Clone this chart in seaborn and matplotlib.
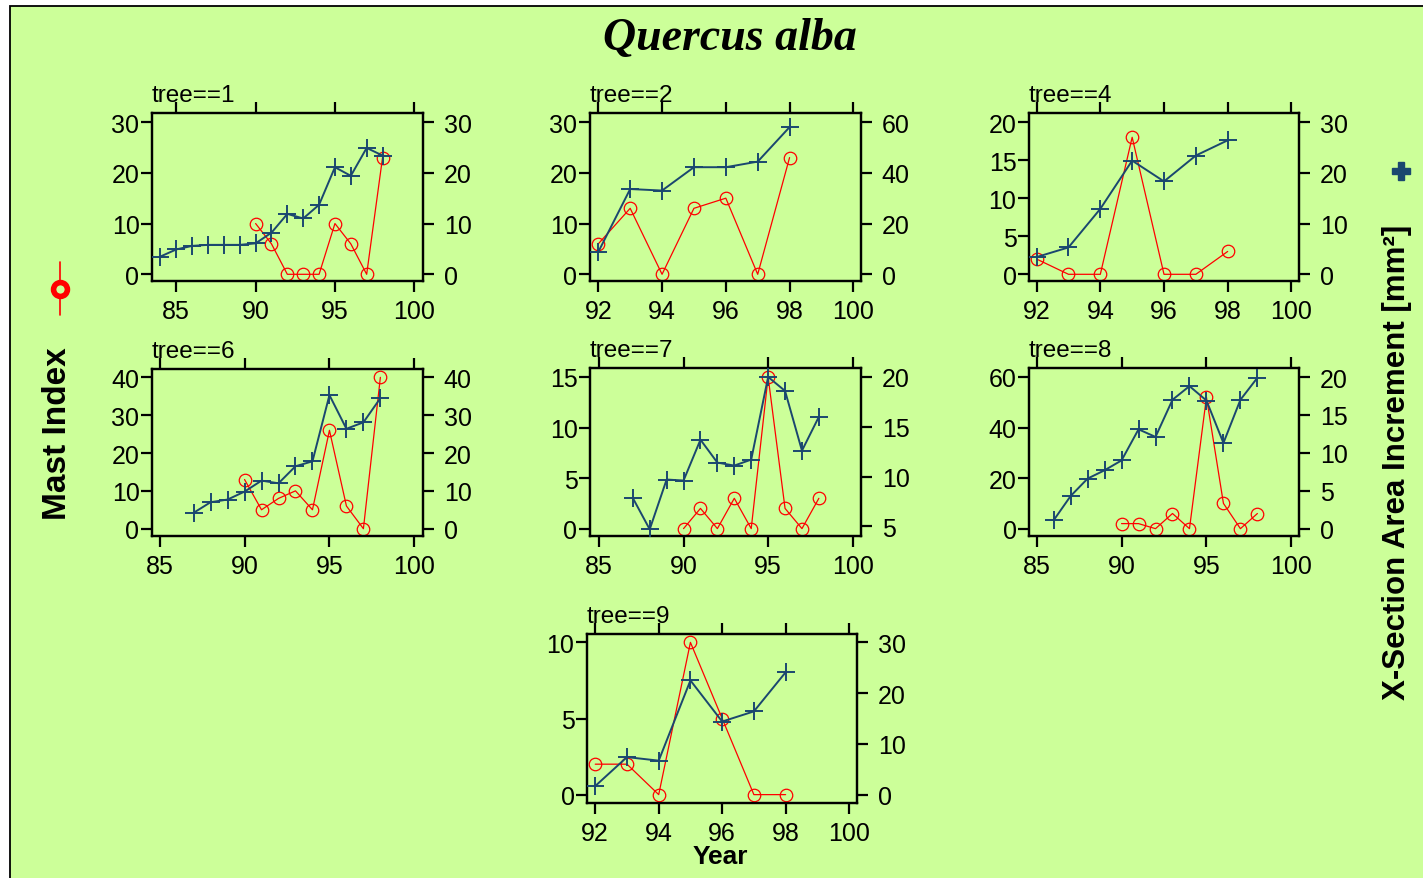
import matplotlib
matplotlib.use("Agg")
import matplotlib.pyplot as plt
from matplotlib.lines import Line2D
from matplotlib.patches import Rectangle
import seaborn as sns

sns.set_style("ticks")
plt.rcParams['font.family'] = ['Liberation Sans', 'DejaVu Sans']
plt.rcParams['text.color'] = 'black'
plt.rcParams['xtick.color'] = 'black'
plt.rcParams['ytick.color'] = 'black'
plt.rcParams['axes.labelcolor'] = 'black'

# ---------------- data ----------------
trees = [1, 2, 4, 6, 7, 8, 9]

mast_years_t1 = [90, 91, 92, 93, 94, 95, 96, 97, 98]
mast_t1 = [10, 6, 0, 0, 0, 10, 6, 0, 23]
area_years_t1 = [84, 85, 86, 87, 88, 89, 90, 91, 92, 93, 94, 95, 96, 97, 98]
area_t1 = [3.5, 4.9, 5.6, 5.8, 5.8, 5.8, 6.1, 8.2, 11.9, 11.0, 13.7, 21.1, 19.4, 24.9, 23.4]

mast_years_t2 = [92, 93, 94, 95, 96, 97, 98]
mast_t2 = [6, 13, 0, 13, 15, 0, 23]
area_years_t2 = [92, 93, 94, 95, 96, 97, 98]
area_t2 = [8.8, 33.6, 33.0, 42.2, 42.2, 44.4, 58.0]

mast_years_t4 = [92, 93, 94, 95, 96, 97, 98]
mast_t4 = [2, 0, 0, 18, 0, 0, 3]
area_years_t4 = [92, 93, 94, 95, 96, 97, 98]
area_t4 = [3.4, 5.3, 12.9, 22.4, 18.3, 23.4, 26.4]

mast_years_t6 = [90, 91, 92, 93, 94, 95, 96, 97, 98]
mast_t6 = [13, 5, 8, 10, 5, 26, 6, 0, 40]
area_years_t6 = [87, 88, 89, 90, 91, 92, 93, 94, 95, 96, 97, 98]
area_t6 = [4.2, 7.0, 7.7, 9.8, 12.7, 12.0, 16.5, 17.8, 35.3, 26.4, 28.1, 34.5]

mast_years_t7 = [90, 91, 92, 93, 94, 95, 96, 97, 98]
mast_t7 = [0, 2, 0, 3, 0, 15, 2, 0, 3]
area_years_t7 = [87, 88, 89, 90, 91, 92, 93, 94, 95, 96, 97, 98]
area_t7 = [7.85, 4.7, 9.7, 9.6, 13.7, 11.4, 11.1, 11.7, 20.0, 18.6, 12.6, 16.0]

mast_years_t8 = [90, 91, 92, 93, 94, 95, 96, 97, 98]
mast_t8 = [2, 2, 0, 6, 0, 52, 10, 0, 6]
area_years_t8 = [86, 87, 88, 89, 90, 91, 92, 93, 94, 95, 96, 97, 98]
area_t8 = [1.1, 4.3, 6.6, 7.7, 9.0, 13.1, 12.1, 17.0, 18.8, 16.9, 11.3, 17.0, 19.9]

mast_years_t9 = [92, 93, 94, 95, 96, 97, 98]
mast_t9 = [2, 2, 0, 10, 5, 0, 0]
area_years_t9 = [92, 93, 94, 95, 96, 97, 98]
area_t9 = [1.7, 7.4, 6.7, 22.5, 14.4, 16.4, 24.1]

# tick labels per panel
xticks_t1 = [85, 90, 95, 100]; lticks_t1 = [0, 10, 20, 30]; rticks_t1 = [0, 10, 20, 30]
xticks_t2 = [92, 94, 96, 98, 100]; lticks_t2 = [0, 10, 20, 30]; rticks_t2 = [0, 20, 40, 60]
xticks_t4 = [92, 94, 96, 98, 100]; lticks_t4 = [0, 5, 10, 15, 20]; rticks_t4 = [0, 10, 20, 30]
xticks_t6 = [85, 90, 95, 100]; lticks_t6 = [0, 10, 20, 30, 40]; rticks_t6 = [0, 10, 20, 30, 40]
xticks_t7 = [85, 90, 95, 100]; lticks_t7 = [0, 5, 10, 15]; rticks_t7 = [5, 10, 15, 20]
xticks_t8 = [85, 90, 95, 100]; lticks_t8 = [0, 20, 40, 60]; rticks_t8 = [0, 5, 10, 15, 20]
xticks_t9 = [92, 94, 96, 98, 100]; lticks_t9 = [0, 5, 10]; rticks_t9 = [0, 10, 20, 30]

title = "Quercus alba"
ylabel_left = "Mast Index"
ylabel_right = "X-Section Area Increment [mm²]"
xlabel = "Year"

# ---------------- layout / style ----------------
W, H = 1423, 879
BG = "#CCFF99"
RED = "#FF0000"
BLUE = "#1A476F"

panels = [
    dict(tree=1, box=(152, 114, 423, 282), xlim=(83.47, 100.55), yl=(-1.32, 31.78), yr=(-1.32, 31.78),
         my=mast_years_t1, m=mast_t1, ay=area_years_t1, a=area_t1, xt=xticks_t1, lt=lticks_t1, rt=rticks_t1),
    dict(tree=2, box=(590, 114, 861, 282), xlim=(91.74, 100.24), yl=(-1.32, 31.78), yr=(-2.64, 63.56),
         my=mast_years_t2, m=mast_t2, ay=area_years_t2, a=area_t2, xt=xticks_t2, lt=lticks_t2, rt=rticks_t2),
    dict(tree=4, box=(1029, 114, 1299, 282), xlim=(91.76, 100.24), yl=(-0.88, 21.19), yr=(-1.32, 31.78),
         my=mast_years_t4, m=mast_t4, ay=area_years_t4, a=area_t4, xt=xticks_t4, lt=lticks_t4, rt=rticks_t4),
    dict(tree=6, box=(152, 370, 423, 537), xlim=(84.55, 100.51), yl=(-1.93, 42.2), yr=(-1.93, 42.2),
         my=mast_years_t6, m=mast_t6, ay=area_years_t6, a=area_t6, xt=xticks_t6, lt=lticks_t6, rt=rticks_t6),
    dict(tree=7, box=(590, 369, 861, 537), xlim=(84.47, 100.49), yl=(-0.73, 15.89), yr=(4.03, 20.9),
         my=mast_years_t7, m=mast_t7, ay=area_years_t7, a=area_t7, xt=xticks_t7, lt=lticks_t7, rt=rticks_t7),
    dict(tree=8, box=(1029, 369, 1299, 537), xlim=(84.55, 100.45), yl=(-2.9, 63.56), yr=(-0.97, 21.19),
         my=mast_years_t8, m=mast_t8, ay=area_years_t8, a=area_t8, xt=xticks_t8, lt=lticks_t8, rt=rticks_t8),
    dict(tree=9, box=(587, 635, 857, 804), xlim=(91.74, 100.25), yl=(-0.55, 10.55), yr=(-1.64, 31.64),
         my=mast_years_t9, m=mast_t9, ay=area_years_t9, a=area_t9, xt=xticks_t9, lt=lticks_t9, rt=rticks_t9),
]

fig = plt.figure(figsize=(W / 100, H / 100), dpi=100)
fig.patch.set_facecolor("white")
fig.patches.append(Rectangle((9.5 / W, -0.1), 1.2, 1.1 - 6.5 / H, transform=fig.transFigure,
                             facecolor=BG, edgecolor="black", linewidth=1.3, zorder=-10))


def rect(b):
    x0, y0, x1, y1 = b
    return [x0 / W, 1 - y1 / H, (x1 - x0) / W, (y1 - y0) / H]


TS = 18
for p in panels:
    ax = fig.add_axes(rect(p["box"]))
    ax.set_facecolor("none")
    sns.lineplot(x=p["my"], y=p["m"], ax=ax, color=RED, linewidth=0.9, marker="o", markersize=9,
                 markerfacecolor="none", markeredgecolor=RED, markeredgewidth=0.9, zorder=3)
    ax2 = ax.twinx()
    sns.lineplot(x=p["ay"], y=p["a"], ax=ax2, color=BLUE, linewidth=1.4, marker="+", markersize=13,
                 markeredgewidth=1.4, markeredgecolor=BLUE, zorder=4)
    ax.set_xlim(*p["xlim"])
    ax.set_ylim(*p["yl"])
    ax2.set_ylim(*p["yr"])
    ax.set_xticks(p["xt"])
    ax.set_xticklabels([str(v) for v in p["xt"]])
    ax.set_yticks(p["lt"])
    ax.set_yticklabels([str(v) for v in p["lt"]])
    ax2.set_yticks(p["rt"])
    ax2.set_yticklabels([str(v) for v in p["rt"]])
    for a_ in (ax, ax2):
        a_.set_xlabel("")
        a_.set_ylabel("")
        for s in a_.spines.values():
            s.set_visible(True)
            s.set_linewidth(1.6)
            s.set_color("black")
    ax.tick_params(axis="x", direction="out", length=8, width=1.6, top=True, bottom=True,
                   labelsize=TS, pad=5, colors="black")
    ax.tick_params(axis="y", direction="out", length=8, width=1.6, left=True, right=False,
                   labelsize=TS, pad=1, colors="black")
    ax2.tick_params(axis="y", direction="out", length=8, width=1.6, right=True, left=False,
                    labelsize=TS, pad=7, colors="black")
    x0, y0, x1, y1 = p["box"]
    fig.text(x0 / W, 1 - (y0 - 12) / H, f"tree=={p['tree']}",
             fontsize=17.5, ha="left", va="baseline", color="black")

# titles and labels
fig.text(730 / W, 1 - 39 / H, title, fontsize=33, fontweight="bold", fontstyle="italic",
         family=["Liberation Serif", "DejaVu Serif"], ha="center", va="center", color="black")
fig.text(58 / W, 1 - 434 / H, ylabel_left, fontsize=24, fontweight="bold", rotation=90,
         ha="center", va="center", color="black")
fig.text(1397 / W, 1 - 462 / H, ylabel_right, fontsize=22.5, fontweight="bold", rotation=90,
         ha="center", va="center", color="black")
fig.text(720 / W, 1 - 857 / H, xlabel, fontsize=19, fontweight="bold", ha="center", va="center",
         color="black")

# legend keys
fig.add_artist(Line2D([60 / W, 60 / W], [1 - 263 / H, 1 - 316 / H], color=RED, linewidth=1.2,
                      transform=fig.transFigure))
fig.add_artist(Line2D([60 / W], [1 - 290 / H], marker="o", markersize=10, markerfacecolor=BG,
                      markeredgecolor=RED, markeredgewidth=4, linestyle="none", transform=fig.transFigure))
fig.add_artist(Line2D([1401 / W], [1 - 172 / H], marker="P", markersize=13, color=BLUE,
                      markeredgecolor=BLUE, linestyle="none", transform=fig.transFigure))

fig.savefig("out.png", dpi=100, facecolor=fig.get_facecolor())
